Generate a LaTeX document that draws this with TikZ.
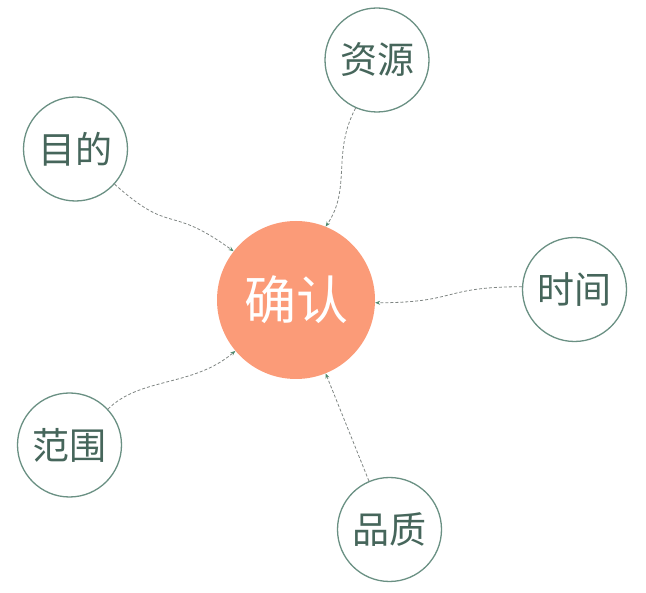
\documentclass[tikz,border=0pt]{standalone}
\usepackage{fontspec}
\setmainfont{Noto Sans CJK SC}
\usetikzlibrary{arrows.meta}
\definecolor{labelgreen}{HTML}{46665B}
\definecolor{ringgreen}{HTML}{6A9083}
\definecolor{peach}{HTML}{FB9B78}
\definecolor{linkgray}{HTML}{7F8583}
\definecolor{tipgreen}{HTML}{4F8A6E}
\begin{document}
\begin{tikzpicture}[x=1pt,y=-1pt,
        topic/.style={circle,draw=ringgreen,line width=1.3pt,fill=white,minimum size=104pt,inner sep=0pt,text=labelgreen,font=\fontsize{37}{37}\selectfont},
        hub/.style={circle,fill=peach,minimum size=158pt,inner sep=0pt,text=white,font=\fontsize{52}{52}\selectfont},
        link/.style={draw=linkgray,dash pattern=on 3pt off 2pt,line width=0.8pt,-{Stealth[length=5pt,width=4pt,color=tipgreen]}}]
        \useasboundingbox (0,0) rectangle (646,593);

        \node[hub] (queren) at (296,300) {确认};
        \node[topic] (ziyuan) at (377,60) {资源};
        \node[topic] (mudi) at (75.5,149) {目的};
        \node[topic] (shijian) at (574.5,289.5) {时间};
        \node[topic] (fanwei) at (69.5,445) {范围};
        \node[topic] (pinzhi) at (389.5,529.5) {品质};

        % dashed links into the hub
        \draw[link] (mudi.-42) .. controls +(58,52) and +(-66,-48) .. (queren.142);
        \draw[link] (ziyuan.-114) .. controls +(-24,45) and +(26,-38) .. (queren.68);
        \draw[link] (shijian.177) .. controls +(-80,0) and +(82,0) .. (queren.-2);
        \draw[link] (fanwei.43) .. controls +(32,-32) and +(-42,36) .. (queren.-140);
        \draw[link] (pinzhi.113) -- (queren.-68);
    \end{tikzpicture}
\end{document}
